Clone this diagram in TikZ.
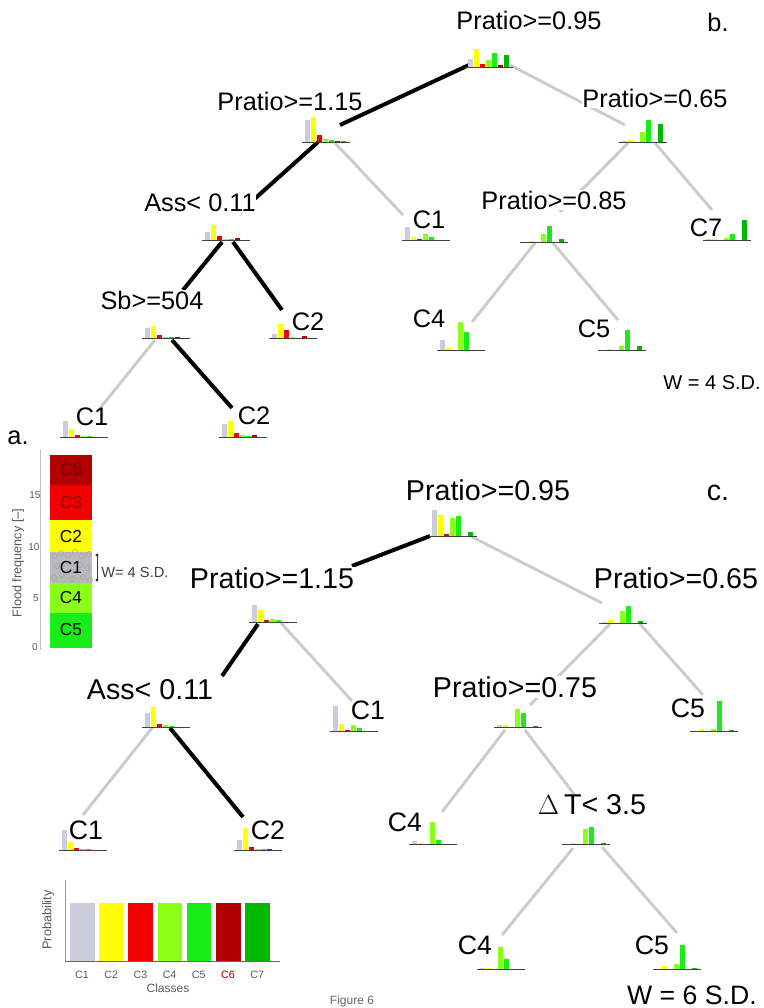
\documentclass[tikz,border=0pt]{standalone}
\usepackage{fontspec}
\setmainfont{Liberation Sans}
\usetikzlibrary{calc}
\definecolor{cls1}{rgb}{0.80,0.80,0.86}
\definecolor{cls2}{rgb}{1,1,0}
\definecolor{cls3}{rgb}{0.95,0,0}
\definecolor{cls4}{rgb}{0.55,1,0.1}
\definecolor{cls5}{rgb}{0.1,0.93,0.1}
\definecolor{cls6}{rgb}{0.7,0,0}
\definecolor{cls7}{rgb}{0,0.72,0}
\definecolor{linkgray}{rgb}{0.8,0.8,0.8}
\definecolor{axgray}{rgb}{0.35,0.35,0.35}
\definecolor{bandC1}{rgb}{0.72,0.72,0.74}
\newcommand{\mchart}[2]{%
  \foreach \hh [count=\ii] in {#2} {\fill[color=cls\ii] ([shift={({-21+6*(\ii-1)},0)}]#1) rectangle ++(4.5,-\hh);}
  \draw[line width=0.6pt, black!75] ([shift={(-24,0)}]#1) -- ([shift={(24,0)}]#1);}
\begin{document}
\begin{tikzpicture}[x=0.75pt,y=-0.75pt,
  blk/.style={line width=3pt, black},
  gry/.style={line width=2.2pt, color=linkgray},
  lab/.style={font=\fontsize{19}{22}\selectfont, fill=white, inner sep=0.5pt},
  labc/.style={font=\fontsize{21.5}{24}\selectfont, fill=white, inner sep=0.5pt},
  leaf/.style={font=\fontsize{19}{22}\selectfont, inner sep=0pt},
  leafc/.style={font=\fontsize{20}{23}\selectfont, inner sep=0pt},
  band/.style={font=\fontsize{13}{15}\selectfont, inner sep=0pt},
  small/.style={font=\fontsize{7.5}{9}\selectfont, text=axgray, inner sep=0pt}]
\useasboundingbox (0,0) rectangle (764,1008);
\fill[white] (0,0) rectangle (764,1008);

% ---------------- chart anchor points (baseline centres) ----------------
% panel b
\coordinate (b0) at (489,67);
\coordinate (b115) at (326,142);
\coordinate (b065) at (643,142);
\coordinate (bAss) at (226,240);
\coordinate (bC1a) at (426,240);
\coordinate (b085) at (544,242);
\coordinate (bC7) at (727,240);
\coordinate (bSb) at (166,338);
\coordinate (bC2a) at (293,338);
\coordinate (bC4) at (461,350);
\coordinate (bC5) at (622,350);
\coordinate (bC1b) at (84,437);
\coordinate (bC2b) at (243,437);
% panel c
\coordinate (c0) at (453,536);
\coordinate (c115) at (273,622);
\coordinate (c065) at (623,623);
\coordinate (cAss) at (166,727);
\coordinate (cC1a) at (354,731);
\coordinate (c075) at (518,727);
\coordinate (cC5a) at (714,731);
\coordinate (cC1b) at (83,850);
\coordinate (cC2) at (258,850);
\coordinate (cC4a) at (433,844);
\coordinate (cDT) at (586,844);
\coordinate (cC4b) at (501,969);
\coordinate (cC5b) at (677,969);

% ---------------- connectors ----------------
% panel b
\draw[blk] ([shift={(-20,-2)}]b0) -- ([shift={(14,-17)}]b115);
\draw[gry] ([shift={(21,-2)}]b0) -- ([shift={(-18,-17)}]b065);
\draw[blk] ([shift={(-8,0)}]b115) -- ([shift={(14,-28)}]bAss);
\draw[gry] ([shift={(9,1)}]b115) -- ([shift={(-23,-25)}]bC1a);
\draw[gry] ([shift={(-15,1)}]b065) -- ([shift={(16,-30)}]b085);
\draw[gry] ([shift={(12,1)}]b065) -- ([shift={(-15,-30)}]bC7);
\draw[blk] ([shift={(-4,2)}]bAss) -- ([shift={(17,-48)}]bSb);
\draw[blk] ([shift={(7,2)}]bAss) -- ([shift={(-11,-28)}]bC2a);
\draw[gry] ([shift={(-11,2)}]bSb) -- ([shift={(13,-25)}]bC1b);
\draw[blk] ([shift={(6,2)}]bSb) -- ([shift={(-11,-29)}]bC2b);
\draw[gry] ([shift={(-9,1)}]b085) -- ([shift={(11,-28)}]bC4);
\draw[gry] ([shift={(9,1)}]b085) -- ([shift={(-4,-30)}]bC5);
% panel c
\draw[blk] ([shift={(-23,0)}]c0) -- ([shift={(79,-56)}]c115);
\draw[gry] ([shift={(19,1)}]c0) -- ([shift={(-21,-20)}]c065);
\draw[blk] ([shift={(-15,2)}]c115) -- ([shift={(56,-51)}]cAss);
\draw[gry] ([shift={(8,1)}]c115) -- ([shift={(-2,-30)}]cC1a);
\draw[gry] ([shift={(-10,-4)}]cAss) -- ([shift={(0,-35)}]cC1b);
\draw[blk] ([shift={(4,1)}]cAss) -- ([shift={(-15,-33)}]cC2);
\draw[gry] ([shift={(-13,1)}]c065) -- ([shift={(12,-22)}]c075);
\draw[gry] ([shift={(17,1)}]c065) -- ([shift={(-11,-36)}]cC5a);
\draw[gry] ([shift={(-13,3)}]c075) -- ([shift={(9,-32)}]cC4a);
\draw[gry] ([shift={(7,3)}]c075) -- ([shift={(4,-29)}]cDT);
\draw[gry] ([shift={(-13,4)}]cDT) -- ([shift={(1,-34)}]cC4b);
\draw[gry] ([shift={(16,3)}]cDT) -- ([shift={(0,-36)}]cC5b);

% ---------------- labels ----------------
% panel b
\node[lab] (Lb0) at (529,20) {Pratio>=0.95};
\node[lab] (Lbb) at (718,22) {b.};
\node[lab] (Lb115) at (290,101) {Pratio>=1.15};
\node[lab] (Lb065) at (655,98) {Pratio>=0.65};
\node[lab] (LbAss) at (200,203) {Ass< 0.11};
\node[leaf] (LbC1a) at (429,220) {C1};
\node[lab] (Lb085) at (554,200) {Pratio>=0.85};
\node[leaf] (LbC7) at (706,228) {C7};
\node[lab] (LbSb) at (152,300) {Sb>=504};
\node[leaf] (LbC2a) at (308,322) {C2};
\node[leaf] (LbC4) at (429,319) {C4};
\node[leaf] (LbC5) at (594,329) {C5};
\node[leaf] (LbC1b) at (92,417) {C1};
\node[leaf] (LbC2b) at (254,416) {C2};
\node[leaf, font=\fontsize{15}{18}\selectfont, anchor=east] (LbW) at (761,383) {W = 4 S.D.};
% panel c
\node[labc] (Lc0) at (488,490) {Pratio>=0.95};
\node[labc] (Lcc) at (718,493) {c.};
\node[labc] (Lc115) at (272,578) {Pratio>=1.15};
\node[labc] (Lc065) at (676,578) {Pratio>=0.65};
\node[labc] (LcAss) at (150,690) {Ass< 0.11};
\node[leafc] (LcC1a) at (368,710) {C1};
\node[labc] (Lc075) at (515,687) {Pratio>=0.75};
\node[leafc] (LcC5a) at (688,708) {C5};
\node[leafc] (LcC1b) at (86,830) {C1};
\node[leafc] (LcC2) at (268,830) {C2};
\node[leafc] (LcC4a) at (405,822) {C4};
\node[labc] (LcDT) at (592,805) {$\Delta$\,T< 3.5};
\node[leafc] (LcC4b) at (475,945) {C4};
\node[leafc] (LcC5b) at (652,945) {C5};
\node[leafc] (LcW) at (692,995) {W = 6 S.D.};

% ---------------- mini bar charts ----------------
\mchart{b0}{8,18,3,7,14,2,12}
\mchart{b115}{22,25,7,3,2,1,1}
\mchart{b065}{1,2,0,10,22,0,18}
\mchart{bAss}{8,15,4,1,1,2,0}
\mchart{bC1a}{13,3,1,6,3,0,0}
\mchart{b085}{0,1,0,8,16,0,3}
\mchart{bC7}{1,1,0,2,6,0,20}
\mchart{bSb}{10,12,3,1,1,1,0}
\mchart{bC2a}{4,14,8,1,0,2,0}
\mchart{bC4}{10,2,0,28,18,0,0}
\mchart{bC5}{0,1,0,4,20,0,4}
\mchart{bC1b}{16,8,2,1,1,0,0}
\mchart{bC2b}{13,16,4,2,1,2,0}
\mchart{c0}{26,21,2,18,20,0,4}
\mchart{c115}{17,12,2,3,2,0,0}
\mchart{c065}{1,3,0,12,17,0,2}
\mchart{cAss}{14,20,3,2,1,0,0}
\mchart{cC1a}{25,7,1,6,3,0,0}
\mchart{c075}{2,2,0,18,14,0,1}
\mchart{cC5a}{0,2,0,2,30,0,1}
\mchart{cC1b}{20,8,2,1,1,0,0}
\mchart{cC2}{10,22,3,1,1,1,0}
\mchart{cC4a}{3,1,0,22,4,0,0}
\mchart{cDT}{0,1,0,15,17,0,1}
\mchart{cC4b}{1,1,0,22,10,0,0}
\mchart{cC5b}{0,3,0,5,24,0,1}

% ---------------- panel a: class legend column ----------------
\node[lab] (La) at (18,438) {a.};
\draw[line width=0.5pt, black!25] (40,450) -- (40,650);
\fill[cls6] (50,455) rectangle (92,485);
\fill[red!95!black] (50,485) rectangle (92,520);
\fill[cls2] (50,520) rectangle (92,552);
\fill[bandC1] (50,552) rectangle (92,583);
\fill[cls4] (50,583) rectangle (92,613);
\fill[cls5] (50,613) rectangle (92,648);
\foreach \px/\py in {54/556,61/553,68/555,75/552,82/556,89/554,57/566,66/563,80/565,87/568,54/578,62/575,72/579,83/577,90/580}
  {\draw[gray!70, line width=0.4pt] (\px,\py) circle (2.6);}
\node[band, text=cls6!60!black] (Ta6) at (71,470) {C6};
\node[band, text=cls6!80!black] (Ta3) at (71,503) {C3};
\node[band] (Ta2) at (71,537) {C2};
\node[band] (Ta1) at (71,568) {C1};
\node[band] (Ta4) at (71,598) {C4};
\node[band] (Ta5) at (71,630) {C5};
\node[small] (Ya0) at (35,647) {0};
\node[small] (Ya5) at (36,598) {5};
\node[small] (Ya10) at (34,547) {10};
\node[small] (Ya15) at (35,495) {15};
\node[small, font=\fontsize{9.5}{11}\selectfont, rotate=90] (Yal) at (18,563) {Flood frequency [–]};
\coordinate (Wt) at (97,555);
\coordinate (Wb) at (97,580);
\draw[line width=0.6pt, black!80] (Wt) -- (Wb);
\fill[black!80] (Wt) circle (1.6) (Wb) circle (1.6);
\node[font=\fontsize{11}{13}\selectfont, text=black!75, anchor=west, inner sep=0pt] (Wa) at (101,572) {W= 4 S.D.};

% ---------------- probability legend ----------------
\draw[line width=0.5pt, black!40] (65,880) -- (65,961);
\foreach \cl [count=\k] in {C1,C2,C3,C4,C5,C6,C7} {
  \fill[color=cls\k] ({70+29.2*(\k-1)},903) rectangle ++(24.5,58);
}
\draw[line width=0.6pt, black!60] (65,961) -- (280,961);
\foreach \cl [count=\k] in {C1,C2,C3,C4,C5} {
  \node[small, font=\fontsize{8}{10}\selectfont] (P\cl) at ({82+29.2*(\k-1)},975) {\cl};
}
\node[small, font=\fontsize{8}{10}\selectfont, text=cls6!80!black] (PC6) at ({82+29.2*5},975) {C6};
\node[small, font=\fontsize{8}{10}\selectfont] (PC7) at ({82+29.2*6},975) {C7};
\node[small, font=\fontsize{9}{11}\selectfont] (Pcl) at (168,988) {Classes};
\node[small, font=\fontsize{9.5}{11}\selectfont, rotate=90] (Ppr) at (48,920) {Probability};

\node[font=\fontsize{9}{10}\selectfont, text=black!60, anchor=north, inner sep=0pt] (Fig) at (352,996) {Figure 6};
\end{tikzpicture}
\end{document}
